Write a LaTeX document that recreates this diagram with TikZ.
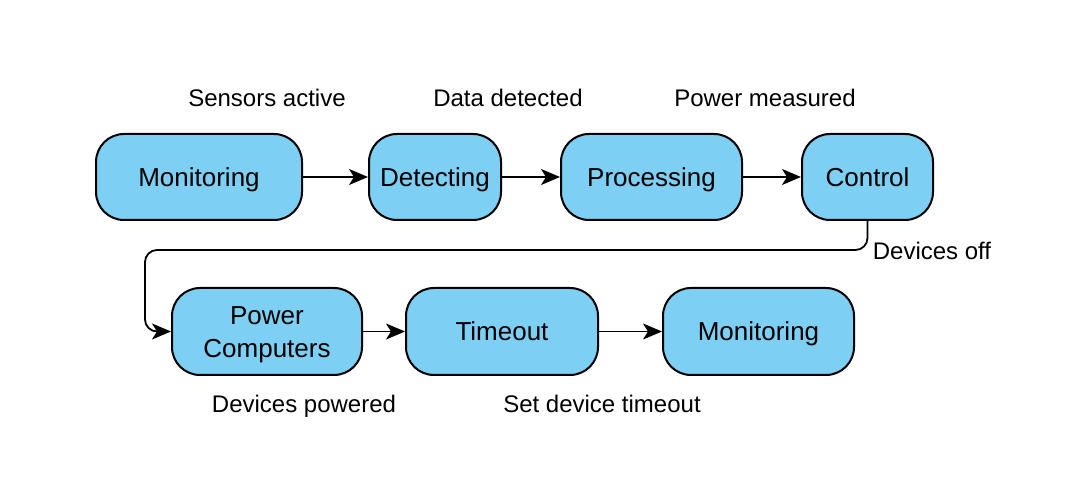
\documentclass[tikz,border=0pt]{standalone}
\usepackage{fontspec}
\setmainfont{Liberation Sans}
\usetikzlibrary{arrows.meta}
\definecolor{boxblue}{HTML}{7DCFF4}
\tikzset{
  state/.style={draw=black, line width=2pt, fill=boxblue, rounded corners=28pt, font=\fontsize{26}{33}\selectfont, align=center, inner sep=0pt},
  lbl/.style={font=\fontsize{24}{28}\selectfont, inner sep=0pt, text height=18pt, text depth=0pt},
  flow/.style={draw=black, line width=1.8pt, -{Stealth[length=19pt,width=16pt,inset=5pt]}}
}
\newcommand{\onel}[1]{\raisebox{0pt}[19pt][0pt]{#1}}
\begin{document}
\begin{tikzpicture}[x=1pt,y=-1pt]
\useasboundingbox (0,0) rectangle (1071,502);
\node[state, minimum width=206pt, minimum height=86pt] (m1) at (199,177) {\onel{Monitoring}};
\node[state, minimum width=132pt, minimum height=86pt] (det) at (435,177) {\onel{Detecting}};
\node[state, minimum width=181pt, minimum height=86pt] (proc) at (651.5,177) {\onel{Processing}};
\node[state, minimum width=131pt, minimum height=86pt] (ctl) at (867.5,177) {\onel{Control}};
\node[state, minimum width=190pt, minimum height=87pt] (pc) at (267,331.5) {\raisebox{0pt}[24pt][0pt]{Power}\\Computers};
\node[state, minimum width=192pt, minimum height=87pt] (to) at (502,331.5) {\onel{Timeout}};
\node[state, minimum width=191pt, minimum height=87pt] (m2) at (758.5,331.5) {\onel{Monitoring}};
\node[lbl] (l1) at (267,98) {Sensors active};
\node[lbl] (l2) at (508,98) {Data detected};
\node[lbl] (l3) at (765,98) {Power measured};
\node[lbl] (l4) at (932,251) {Devices off};
\node[lbl] (l5) at (304,404) {Devices powered};
\node[lbl] (l6) at (602,404) {Set device timeout};
\coordinate (c1) at (867.5,250);
\coordinate (c2) at (145,250);
\coordinate (c3) at (145,331.5);
\draw[flow] (m1) -- (det);
\draw[flow] (det) -- (proc);
\draw[flow] (proc) -- (ctl);
\draw[flow, rounded corners=12pt] (ctl.south) -- (c1) -- (c2) -- (c3) -- (pc.west);
\draw[flow] (pc) -- (to);
\draw[flow] (to) -- (m2);
\end{tikzpicture}
\end{document}
